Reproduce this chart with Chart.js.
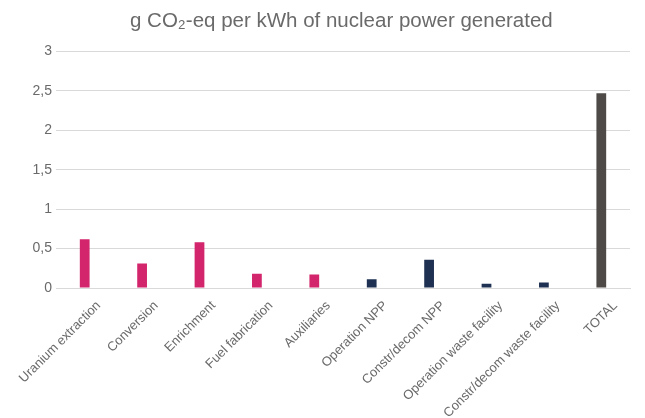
<!DOCTYPE html>
<html>
<head>
<meta charset="utf-8">
<script src="https://cdn.jsdelivr.net/npm/chart.js@4/dist/chart.umd.min.js"></script>
<style>
  html, body { margin: 0; padding: 0; background: #fff; }
  #wrap { width: 645px; height: 418px; position: relative; }
</style>
</head>
<body>
<div id="wrap"><canvas id="chart"></canvas></div>
<script>
const stages = ['Uranium extraction', 'Conversion', 'Enrichment', 'Fuel fabrication',
    'Auxiliaries', 'Operation NPP', 'Constr/decom NPP', 'Operation waste facility',
    'Constr/decom waste facility', 'TOTAL'];
const emissions = [0.62, 0.31, 0.58, 0.18, 0.17, 0.11, 0.36, 0.055, 0.07, 2.47];
const phase = ['fuel', 'fuel', 'fuel', 'fuel', 'fuel', 'plant', 'plant', 'plant', 'plant', 'total'];
const yTicks = [0, 0.5, 1, 1.5, 2, 2.5, 3];

const phaseColor = { fuel: '#D2256B', plant: '#1F3152', total: '#4E4A47' };
const grey = '#6A6A6A';

const ctx = document.querySelector('#chart').getContext('2d');
const chart = new Chart(ctx, {
    type: 'bar',
    data: {
        labels: stages,
        datasets: [{
            label: 'g CO2-eq per kWh',
            data: emissions,
            backgroundColor: phase.map(p => phaseColor[p]),
            barPercentage: 0.17,
            categoryPercentage: 1
        }]
    },
    options: {
        responsive: true,
        maintainAspectRatio: false,
        animation: false,
        layout: { padding: { left: 30, right: 15, top: 9, bottom: 0 } },
        plugins: {
            legend: { display: false },
            tooltip: { enabled: false },
            title: {
                display: true,
                // leading spaces nudge the centred title to the right like the original
                text: '    g CO₂-eq per kWh of nuclear power generated',
                color: grey,
                font: { family: 'Liberation Sans', size: 20.5, weight: 'normal' },
                padding: { top: 0, bottom: 18 }
            }
        },
        scales: {
            x: {
                grid: { display: false, drawTicks: false },
                border: { color: '#D9D9D9' },
                afterFit: axis => {
                    axis.height = 130;
                    axis.paddingLeft = 0;
                    axis.paddingRight = 0;
                },
                ticks: {
                    color: grey,
                    font: { family: 'Liberation Sans', size: 13 },
                    maxRotation: 45,
                    minRotation: 45,
                    autoSkip: false,
                    labelOffset: 14,
                    padding: 10
                }
            },
            y: {
                min: 0,
                max: 3,
                afterBuildTicks: axis => { axis.ticks = yTicks.map(v => ({ value: v })); },
                afterFit: axis => { axis.width = 26; },
                grid: { color: '#D9D9D9', drawTicks: false },
                border: { display: false },
                ticks: {
                    color: grey,
                    font: { family: 'Liberation Sans', size: 14 },
                    padding: 4,
                    callback: v => String(v).replace('.', ',')
                }
            }
        }
    }
});
</script>
</body>
</html>
